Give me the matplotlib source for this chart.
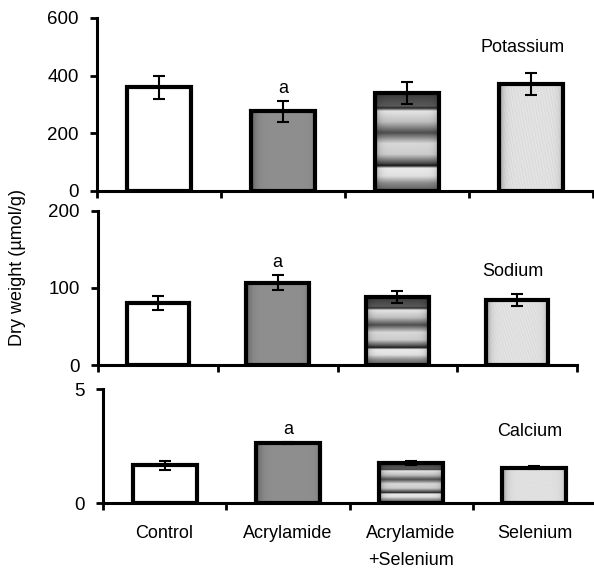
import matplotlib.pyplot as plt
import numpy as np

plt.rcParams['font.family'] = ['Liberation Sans', 'DejaVu Sans']

groups = ["Control", "Acrylamide", "Acrylamide\n+Selenium", "Selenium"]

potassium = [360, 277, 340, 370]
potassium_err = [40, 36, 38, 38]
sodium = [80, 107, 88, 84]
sodium_err = [9, 10, 8, 8]
calcium = [1.65, 2.63, 1.75, 1.55]
calcium_err = [0.2, 0.05, 0.08, 0.08]
sig_marks = ["", "a", "", ""]

W, H = 594, 568


def ax_box(x0, x1, ytop, ybot):
    return [x0 / W, 1 - ybot / H, (x1 - x0) / W, (ybot - ytop) / H]


# fill textures (styling only)
def tex_white():
    return np.ones((2, 2, 3))


def tex_gray():
    x = np.linspace(0, 1, 60)
    prof = 0.56 - 0.22 * np.exp(-x / 0.06) - 0.08 * np.exp(-(1 - x) / 0.05)
    img = np.tile(prof, (40, 1))
    return np.dstack([img] * 3)


def tex_bands():
    t = np.linspace(0, 1, 200)
    pts_t = [0, 0.03, 0.14, 0.16, 0.19, 0.3, 0.41, 0.52, 0.63, 0.72, 0.745, 0.77, 0.85, 0.92, 1]
    pts_v = [0.2, 0.25, 0.35, 0.15, 0.9, 0.75, 0.3, 0.85, 0.8, 0.3, 0.08, 0.92, 0.88, 0.55, 0.35]
    prof = np.interp(t, pts_t, pts_v)
    x = np.linspace(0, 1, 60)
    edge = 1 - 0.35 * np.exp(-x / 0.05) - 0.3 * np.exp(-(1 - x) / 0.05)
    img = np.outer(prof, edge)
    return np.dstack([img] * 3)


def tex_speckle():
    yy, xx = np.mgrid[0:120, 0:60]
    n = (np.sin(xx * 1.7 + yy * 0.9) * np.sin(yy * 1.3 - xx * 0.6)
         + 0.6 * np.sin(xx * 3.1) * np.cos(yy * 2.7))
    x = np.linspace(0, 1, 60)
    edge = 1 - 0.4 * np.exp(-x / 0.05) - 0.25 * np.exp(-(1 - x) / 0.05)
    img = (0.88 + 0.05 * n) * edge[None, :]
    img = np.clip(img, 0, 1)
    return np.dstack([img] * 3)


textures = [tex_white(), tex_gray(), tex_bands(), tex_speckle()]

panels = [
    (potassium, potassium_err, 600, [0, 200, 400, 600], "Potassium",
     ax_box(97, 593, 18, 191), (523, 47)),
    (sodium, sodium_err, 200, [0, 100, 200], "Sodium",
     ax_box(98, 577, 211, 365), (513, 272)),
    (calcium, calcium_err, 5, [0, 5], "Calcium",
     ax_box(103, 596, 389, 503), (530, 432)),
]

fig = plt.figure(figsize=(W / 100, H / 100), dpi=100)

xpos = np.arange(len(groups)) + 0.5
axes = []
for i, (vals, errs, ymax, yticks, name, box, lab) in enumerate(panels):
    ax = fig.add_axes(box)
    bars = ax.bar(xpos, vals, width=0.52, facecolor='none', edgecolor='black',
                  linewidth=3, zorder=3)
    for b, tex in zip(bars, textures):
        x0, y0, bw, bh = b.get_x(), b.get_y(), b.get_width(), b.get_height()
        ax.imshow(tex, extent=[x0, x0 + bw, y0, y0 + bh], aspect='auto',
                  interpolation='bilinear', zorder=2, origin='upper')
    ax.errorbar(xpos, vals, yerr=errs, fmt='none', ecolor='black',
                elinewidth=1.5, capsize=4, capthick=1.5, zorder=4)
    for x, v, e, m in zip(xpos, vals, errs, sig_marks):
        if m:
            ax.annotate(m, (x, v + e), xytext=(0, 3), textcoords='offset points',
                        ha='center', va='bottom', fontsize=13)
    ax.set_xlim(0, len(groups))
    ax.set_ylim(0, ymax)
    ax.set_yticks(yticks)
    ax.set_xticks(np.arange(len(groups) + 1))
    ax.set_xticklabels([])
    for s in ['top', 'right']:
        ax.spines[s].set_visible(False)
    for s in ['left', 'bottom']:
        ax.spines[s].set_linewidth(2.2)
    ax.tick_params(axis='both', direction='out', length=5, width=2, labelsize=13.5, pad=8)
    ax.patch.set_alpha(0)
    fig.text(lab[0] / W, 1 - lab[1] / H, name, ha='center', va='center', fontsize=13)
    axes.append(ax)

# category labels under the bottom panel
for x, g in zip(xpos, groups):
    axes[-1].annotate(g, (x, 0), xytext=(0, -16), textcoords='offset points',
                      ha='center', va='top', fontsize=13, linespacing=1.75,
                      annotation_clip=False)

fig.text(18 / W, 1 - 268 / H, "Dry weight (\u00b5mol/g)", rotation=90,
         ha='center', va='center', fontsize=13)

fig.savefig("out.png", dpi=100)
